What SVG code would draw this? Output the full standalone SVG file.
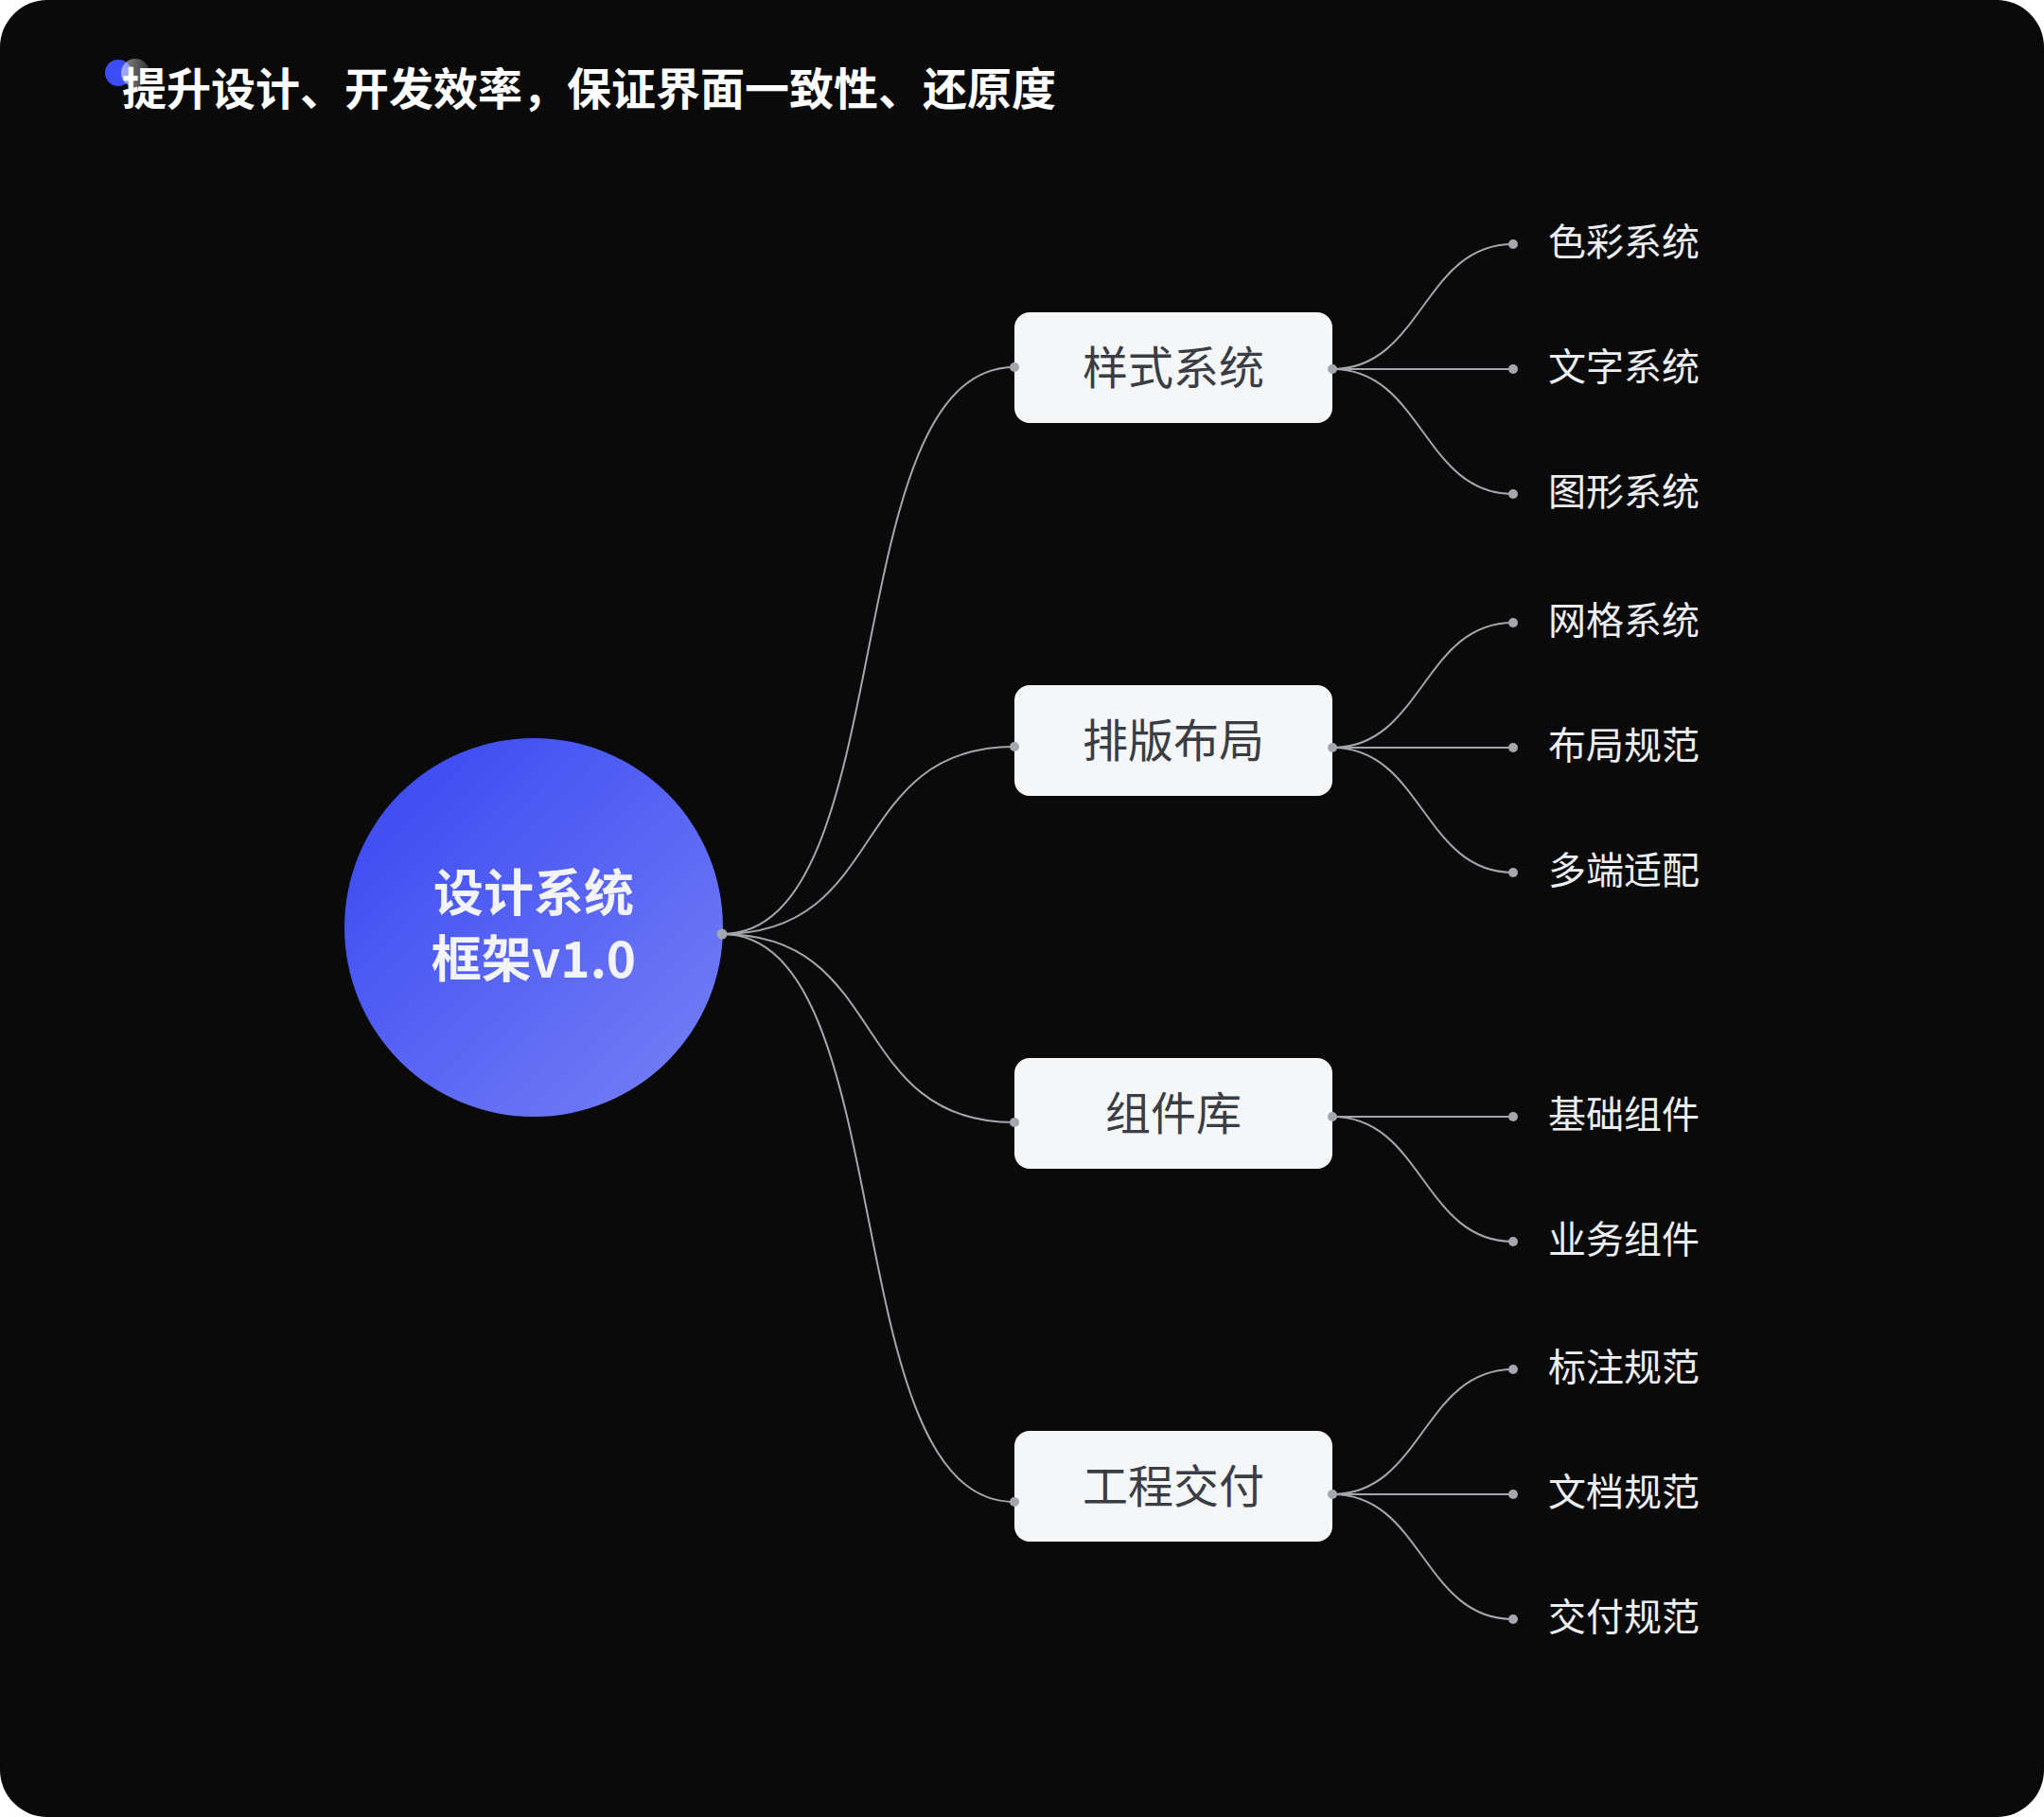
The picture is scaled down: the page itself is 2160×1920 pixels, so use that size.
<svg xmlns="http://www.w3.org/2000/svg" width="2160" height="1920" viewBox="0 0 2160 1920">
<defs>
<linearGradient id="hub" x1="0" y1="0" x2="1" y2="1">
<stop offset="0" stop-color="#3645f2"/>
<stop offset="1" stop-color="#7882f6"/>
</linearGradient>
<linearGradient id="glass" x1="0" y1="0" x2="1" y2="0">
<stop offset="0" stop-color="#ffffff" stop-opacity="0.55"/>
<stop offset="1" stop-color="#ffffff" stop-opacity="0.15"/>
</linearGradient>
<style>
.cjk{font-family:"Noto Sans CJK SC","Noto Sans",sans-serif;}
.title{font-size:47px;font-weight:700;fill:#ffffff;}
.hubtxt{font-size:53px;font-weight:700;fill:#f2f4fa;text-anchor:middle;}
.box{fill:#f5f6f8;}
.boxtxt{font-size:48px;font-weight:400;fill:#3b3d45;text-anchor:middle;}
.leaf{font-size:40px;font-weight:400;fill:#eceef2;}
.link{fill:none;stroke:#a3a6ad;stroke-width:2;}
.port{fill:#a4a7ae;}
</style>
</defs>
<rect x="0" y="0" width="2160" height="1920" fill="#ffffff"/>
<rect x="0" y="0" width="2160" height="1920" rx="50" fill="#0a0a0a"/>

<g id="title">
<circle cx="125" cy="77" r="14" fill="#3d4cf5"/>
<circle cx="143" cy="77" r="15" fill="url(#glass)"/>
<text class="cjk title" x="129" y="111">提升设计、开发效率，保证界面一致性、还原度</text>
</g>

<g id="connectors">
<path class="link" d="M763 987 C954 987 881 388 1072 388"/>
<path class="link" d="M763 987 C940 987 895 789 1072 789"/>
<path class="link" d="M763 987 C940 987 895 1186 1072 1186"/>
<path class="link" d="M763 987 C954 987 881 1587 1072 1587"/>

<path class="link" d="M1408 390 C1503.5 390 1503.5 258 1599 258"/>
<path class="link" d="M1408 390 L1599 390"/>
<path class="link" d="M1408 390 C1503.5 390 1503.5 522 1599 522"/>

<path class="link" d="M1408 790 C1503.5 790 1503.5 658 1599 658"/>
<path class="link" d="M1408 790 L1599 790"/>
<path class="link" d="M1408 790 C1503.5 790 1503.5 922 1599 922"/>

<path class="link" d="M1408 1180 L1599 1180"/>
<path class="link" d="M1408 1180 C1503.5 1180 1503.5 1312 1599 1312"/>

<path class="link" d="M1408 1579 C1503.5 1579 1503.5 1447 1599 1447"/>
<path class="link" d="M1408 1579 L1599 1579"/>
<path class="link" d="M1408 1579 C1503.5 1579 1503.5 1711 1599 1711"/>
</g>

<g id="hub">
<circle cx="564" cy="980" r="200" fill="url(#hub)"/>
<text class="cjk hubtxt" x="564" y="963">设计系统</text>
<text class="cjk hubtxt" x="564" y="1033">框架v1.0</text>
</g>

<g id="node-style">
<rect class="box" x="1072" y="330" width="336" height="117" rx="16"/>
<text class="cjk boxtxt" x="1240" y="405.5">样式系统</text>
</g>
<g id="node-layout">
<rect class="box" x="1072" y="724" width="336" height="117" rx="16"/>
<text class="cjk boxtxt" x="1240" y="799.5">排版布局</text>
</g>
<g id="node-components">
<rect class="box" x="1072" y="1118" width="336" height="117" rx="16"/>
<text class="cjk boxtxt" x="1240" y="1193.5">组件库</text>
</g>
<g id="node-delivery">
<rect class="box" x="1072" y="1512" width="336" height="117" rx="16"/>
<text class="cjk boxtxt" x="1240" y="1587.5">工程交付</text>
</g>

<g id="ports">
<circle class="port" cx="763" cy="987" r="5.5"/>
<circle class="port" cx="1072" cy="388" r="5"/>
<circle class="port" cx="1072" cy="789" r="5"/>
<circle class="port" cx="1072" cy="1186" r="5"/>
<circle class="port" cx="1072" cy="1587" r="5"/>
<circle class="port" cx="1408" cy="390" r="5"/>
<circle class="port" cx="1408" cy="790" r="5"/>
<circle class="port" cx="1408" cy="1180" r="5"/>
<circle class="port" cx="1408" cy="1579" r="5"/>
<circle class="port" cx="1599" cy="258" r="5"/>
<circle class="port" cx="1599" cy="390" r="5"/>
<circle class="port" cx="1599" cy="522" r="5"/>
<circle class="port" cx="1599" cy="658" r="5"/>
<circle class="port" cx="1599" cy="790" r="5"/>
<circle class="port" cx="1599" cy="922" r="5"/>
<circle class="port" cx="1599" cy="1180" r="5"/>
<circle class="port" cx="1599" cy="1312" r="5"/>
<circle class="port" cx="1599" cy="1447" r="5"/>
<circle class="port" cx="1599" cy="1579" r="5"/>
<circle class="port" cx="1599" cy="1711" r="5"/>
</g>

<g id="leaf-color"><text class="cjk leaf" x="1636" y="270">色彩系统</text></g>
<g id="leaf-text"><text class="cjk leaf" x="1636" y="402">文字系统</text></g>
<g id="leaf-graphic"><text class="cjk leaf" x="1636" y="534">图形系统</text></g>
<g id="leaf-grid"><text class="cjk leaf" x="1636" y="670">网格系统</text></g>
<g id="leaf-layout"><text class="cjk leaf" x="1636" y="802">布局规范</text></g>
<g id="leaf-adapt"><text class="cjk leaf" x="1636" y="934">多端适配</text></g>
<g id="leaf-basic"><text class="cjk leaf" x="1636" y="1192">基础组件</text></g>
<g id="leaf-business"><text class="cjk leaf" x="1636" y="1324">业务组件</text></g>
<g id="leaf-annot"><text class="cjk leaf" x="1636" y="1459">标注规范</text></g>
<g id="leaf-doc"><text class="cjk leaf" x="1636" y="1591">文档规范</text></g>
<g id="leaf-deliver"><text class="cjk leaf" x="1636" y="1723">交付规范</text></g>
</svg>
